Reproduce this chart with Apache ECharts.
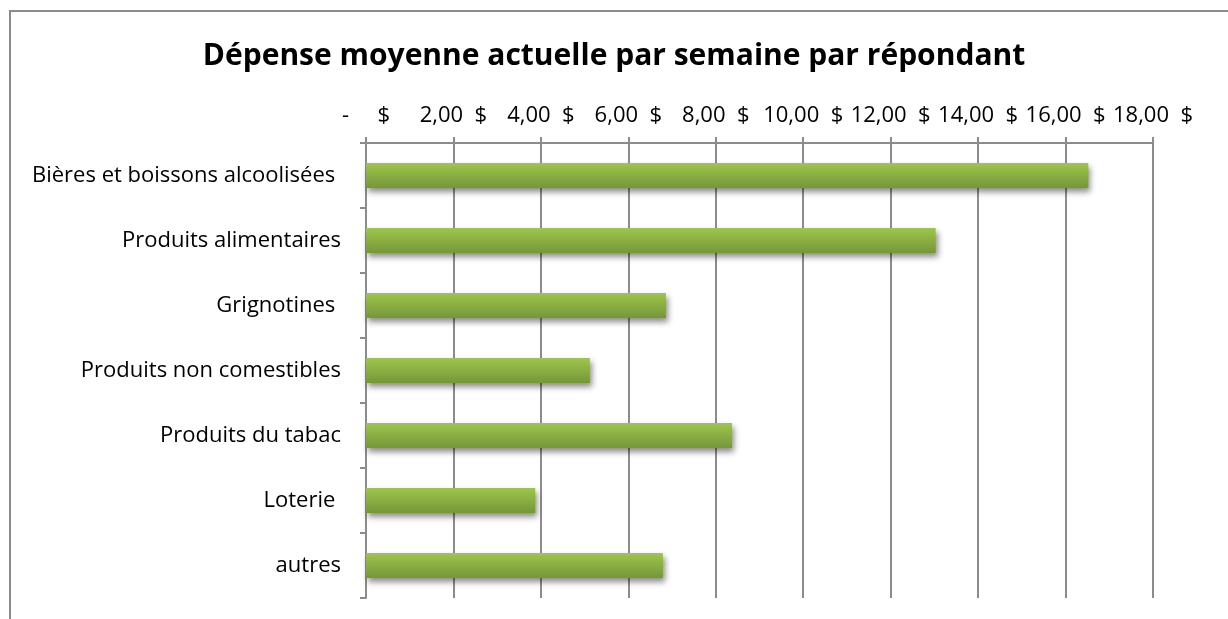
<!DOCTYPE html>
<html>
<head>
<meta charset="utf-8">
<script src="https://cdn.jsdelivr.net/npm/echarts@6/dist/echarts.min.js"></script>
<style>
  html, body { margin: 0; padding: 0; background: #fff; }
  #frame { position: absolute; left: 9px; top: 10px; width: 1230px; height: 620px; border: 2px solid #8c8c8c; box-sizing: border-box; }
  #chart { position: absolute; left: 0; top: 0; width: 1228px; height: 619px; }
</style>
</head>
<body>
<div id="frame"></div>
<div id="chart"></div>
<script>
  // catégories et valeurs (dépense moyenne par semaine, en $)
  var categories = ['Bières et boissons alcoolisées ', 'Produits alimentaires', 'Grignotines ', 'Produits non comestibles', 'Produits du tabac', 'Loterie ', 'autres'];
  var values = [16.52, 13.03, 6.86, 5.12, 8.37, 3.87, 6.79];
  var tickValues = [0, 2, 4, 6, 8, 10, 12, 14, 16, 18];

  var myChart = echarts.init(document.getElementById('chart'));

  function fmtDollar(v) {
    if (v === 0) return '-     $';
    return v.toFixed(2).replace('.', ',') + '  $';
  }

  var option = {
    animation: false,
    title: {
      text: 'Dépense moyenne actuelle par semaine par répondant',
      left: 'center',
      top: 36,
      textStyle: { fontFamily: 'Open Sans', fontWeight: 'bold', fontSize: 30, color: '#000' }
    },
    grid: { left: 366, top: 143, right: 75, bottom: 21 },
    xAxis: {
      type: 'value',
      position: 'top',
      min: tickValues[0],
      max: tickValues[tickValues.length - 1],
      interval: 2,
      axisLine: { show: true, lineStyle: { color: '#8c8c8c', width: 2 } },
      axisTick: { show: true, length: 6, lineStyle: { color: '#8c8c8c', width: 2 } },
      splitLine: { show: true, lineStyle: { color: '#8c8c8c', width: 2 } },
      axisLabel: {
        margin: 16,
        fontFamily: 'Open Sans', fontSize: 22, color: '#000',
        formatter: function (v) { return fmtDollar(v); }
      }
    },
    yAxis: {
      type: 'category',
      inverse: true,
      data: categories,
      axisLine: { show: true, lineStyle: { color: '#8c8c8c', width: 2 } },
      axisTick: { show: true, length: 6, lineStyle: { color: '#8c8c8c', width: 2 } },
      axisLabel: { margin: 25, fontFamily: 'Open Sans', fontSize: 22, color: '#000' }
    },
    series: [
      {
        type: 'bar',
        data: values,
        barWidth: 25,
        itemStyle: {
          color: new echarts.graphic.LinearGradient(0, 0, 0, 1, [
            { offset: 0, color: '#9ec64b' },
            { offset: 1, color: '#76963a' }
          ]),
          shadowColor: 'rgba(0,0,0,0.45)',
          shadowBlur: 6,
          shadowOffsetY: 4,
          shadowOffsetX: 2
        }
      }
    ]
  };
  myChart.setOption(option);
</script>
</body>
</html>
